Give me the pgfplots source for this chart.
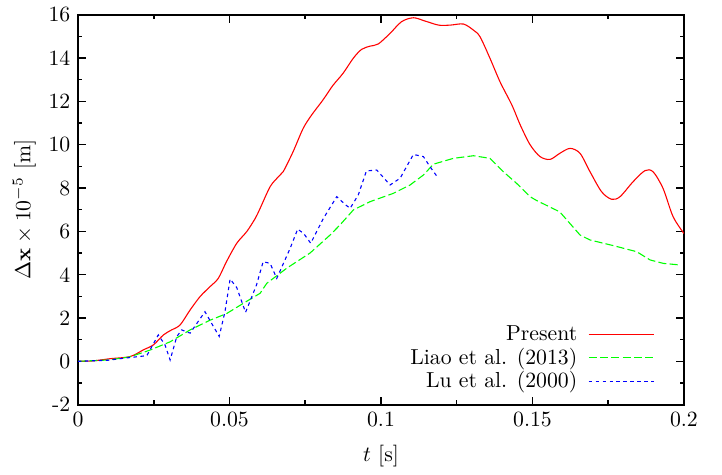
\documentclass[border=0pt]{standalone}
\usepackage{pgfplots}
\pgfplotsset{compat=1.18}
\begin{document}
\begin{tikzpicture}
\path (-35.9pt,-30.8pt) rectangle (296.3pt,185.4pt);
\begin{axis}[
  scale only axis,
  width=278.8pt, height=179.4pt,
  xmin=0, xmax=0.2, ymin=-2, ymax=16,
  xtick={0,0.05,0.1,0.15,0.2},
  xticklabels={0,0.05,0.1,0.15,0.2},
  ytick={-2,0,2,4,6,8,10,12,14,16},
  yticklabels={-2,0,2,4,6,8,10,12,14,16},
  minor x tick num=1, minor y tick num=1,
  tick align=inside,
  major tick length=3.7pt, minor tick length=2pt,
  tick style={line width=0.7pt, black},
  axis line style={line width=0.9pt},
  xlabel={$t$ [s]},
  xlabel style={yshift=-1.6pt},
  ylabel={$\Delta \mathbf{x}\times 10^{-5}$ [m]},
  ylabel style={yshift=-1pt},
  legend plot pos=right,
  legend cell align=right,
  legend style={draw=none, fill=none, at={(axis cs:0.1905,-1.6)}, anchor=south east, row sep=-2pt, inner sep=0pt},
]
\addplot[color=red, line width=0.5pt, smooth,
  legend image code/.code={\path (0pt,0pt); \draw[red, line width=0.7pt] (3pt,0pt) -- (33pt,0pt);}] coordinates {
(0,0) (0.005,0.02) (0.0106,0.12) (0.0172,0.22) (0.0216,0.53) (0.0249,0.76) (0.0282,1.22) (0.0309,1.45) (0.0337,1.68) (0.037,2.37) (0.0403,2.99) (0.0436,3.45) (0.0463,3.83) (0.049,4.6) (0.0524,5.45) (0.0557,5.99) (0.0585,6.6) (0.0601,7.06) (0.0634,8.06) (0.066,8.5) (0.0677,8.75) (0.071,9.68) (0.0743,10.75) (0.0771,11.37) (0.0804,11.98) (0.082,12.3) (0.0842,12.75) (0.0875,13.3) (0.0909,14.0) (0.0936,14.4) (0.0964,14.55) (0.0991,14.65) (0.103,15.14) (0.1068,15.68) (0.1107,15.86) (0.1145,15.71) (0.119,15.52) (0.1228,15.52) (0.1272,15.57) (0.1305,15.29) (0.1327,14.98) (0.136,13.98) (0.1393,12.9) (0.1432,11.83) (0.146,10.9) (0.1492,10.0) (0.1525,9.45) (0.1558,9.32) (0.159,9.6) (0.1624,9.83) (0.1657,9.6) (0.169,8.75) (0.1728,7.83) (0.1761,7.48) (0.1789,7.6) (0.1832,8.29) (0.1871,8.8) (0.1898,8.75) (0.1931,7.98) (0.1964,6.68) (0.2,5.9)
};
\addlegendentry{Present}
\addplot[color=green, line width=0.5pt, dash pattern=on 3.7pt off 1.5pt,
  legend image code/.code={\path (0pt,0pt); \draw[green, line width=0.8pt, dash pattern=on 3.7pt off 1.5pt] (3pt,0pt) -- (33pt,0pt);}] coordinates {
(0,0) (0.01,0.06) (0.017,0.2) (0.0238,0.52) (0.0304,0.9) (0.037,1.45) (0.0436,1.9) (0.049,2.2) (0.0546,2.68) (0.0601,3.14) (0.0623,3.6) (0.0689,4.3) (0.0766,5.0) (0.0832,5.83) (0.0865,6.3) (0.0909,6.99) (0.0964,7.37) (0.104,7.75) (0.1096,8.14) (0.114,8.6) (0.1173,9.1) (0.1239,9.37) (0.1305,9.49) (0.136,9.37) (0.1404,8.75) (0.1448,8.21) (0.1492,7.6) (0.1514,7.42) (0.159,6.9) (0.1657,5.83) (0.169,5.6) (0.1767,5.34) (0.1844,5.06) (0.1888,4.68) (0.1932,4.52) (0.1985,4.45)
};
\addlegendentry{Liao et al. (2013)}
\addplot[color=blue, line width=0.5pt, dash pattern=on 1.6pt off 1.6pt,
  legend image code/.code={\path (0pt,0pt); \draw[blue, line width=0.7pt, dash pattern=on 1.6pt off 1.6pt] (3pt,0pt) -- (33pt,0pt);}] coordinates {
(0,0) (0.01,0.05) (0.015,0.14) (0.0227,0.26) (0.0265,1.22) (0.0287,0.76) (0.0304,0.06) (0.0326,1.14) (0.0342,1.45) (0.037,1.3) (0.0419,2.29) (0.0441,1.75) (0.0466,1.15) (0.0485,2.29) (0.0502,3.8) (0.0524,3.4) (0.0553,2.26) (0.0589,3.52) (0.0611,4.6) (0.0634,4.52) (0.0656,3.83) (0.07,5.21) (0.0725,6.1) (0.0745,5.9) (0.0768,5.45) (0.081,6.6) (0.0854,7.6) (0.0881,7.25) (0.0898,7.06) (0.0925,7.68) (0.0952,8.79) (0.0986,8.83) (0.103,8.14) (0.1063,8.45) (0.1107,9.55) (0.114,9.45) (0.1162,8.98) (0.1184,8.55)
};
\addlegendentry{Lu et al. (2000)}
\end{axis}
\end{tikzpicture}
\end{document}
